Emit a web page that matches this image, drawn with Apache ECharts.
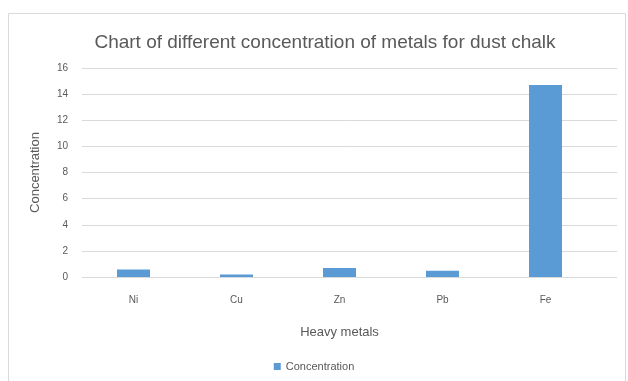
<!DOCTYPE html>
<html>
<head>
<meta charset="utf-8">
<script src="https://cdn.jsdelivr.net/npm/echarts@6/dist/echarts.min.js"></script>
<style>
  html, body { margin: 0; padding: 0; background: #ffffff; }
  #chart { width: 628px; height: 381px; }
</style>
</head>
<body>
<div id="chart"></div>
<script>
// Heavy metal concentrations in dust chalk
const categories = ['Ni', 'Cu', 'Zn', 'Pb', 'Fe'];
const concentration = [0.58, 0.2, 0.68, 0.47, 14.7];
const yTicks = [0, 2, 4, 6, 8, 10, 12, 14, 16];

const yMin = yTicks[0];
const yMax = yTicks[yTicks.length - 1];
const yStep = yTicks[1] - yTicks[0];

const textColor = '#595959';
const fontFamily = 'Liberation Sans, Arial, sans-serif';

const chart = echarts.init(document.getElementById('chart'), null, { renderer: 'canvas' });

chart.setOption({
  backgroundColor: '#ffffff',
  animation: false,
  title: {
    text: 'Chart of different concentration of metals for dust chalk',
    left: 320,
    textAlign: 'center',
    top: 28,
    textStyle: { color: textColor, fontFamily: fontFamily, fontSize: 19, fontWeight: 'normal' }
  },
  legend: {
    data: ['Concentration'],
    bottom: 4,
    left: 'center',
    itemWidth: 7,
    itemHeight: 7,
    icon: 'rect',
    itemGap: 4,
    textStyle: { color: textColor, fontFamily: fontFamily, fontSize: 11 }
  },
  graphic: [{
    type: 'rect',
    shape: { x: 8.5, y: 13.5, width: 617, height: 380 },
    style: { fill: 'none', stroke: '#d9d9d9', lineWidth: 1 },
    silent: true,
    z: -1
  }],
  grid: [
    { left: 82, top: 68, width: 515, height: 209 },
    { left: 82, top: 68, width: 535, height: 209 }
  ],
  xAxis: [
    {
      type: 'category',
      gridIndex: 0,
      data: categories,
      name: 'Heavy metals',
      nameLocation: 'middle',
      nameGap: 49,
      nameTextStyle: { color: textColor, fontFamily: fontFamily, fontSize: 13 },
      axisLine: { show: false },
      axisTick: { show: false },
      axisLabel: { color: textColor, fontFamily: fontFamily, fontSize: 10, margin: 18 }
    },
    {
      type: 'value',
      gridIndex: 1,
      show: false
    }
  ],
  yAxis: [
    {
      type: 'value',
      gridIndex: 0,
      min: yMin,
      max: yMax,
      interval: yStep,
      name: 'Concentration',
      nameLocation: 'middle',
      nameGap: 40,
      nameTextStyle: { color: textColor, fontFamily: fontFamily, fontSize: 13 },
      axisLine: { show: false },
      axisTick: { show: false },
      splitLine: { show: false },
      axisLabel: { color: textColor, fontFamily: fontFamily, fontSize: 10, margin: 14 }
    },
    {
      type: 'value',
      gridIndex: 1,
      min: yMin,
      max: yMax,
      interval: yStep,
      axisLine: { show: false },
      axisTick: { show: false },
      axisLabel: { show: false },
      splitLine: { show: true, lineStyle: { color: '#d9d9d9', width: 1 } }
    }
  ],
  series: [{
    name: 'Concentration',
    type: 'bar',
    xAxisIndex: 0,
    yAxisIndex: 0,
    data: concentration,
    barWidth: 33,
    itemStyle: { color: '#5b9bd5' }
  }]
});
</script>
</body>
</html>
